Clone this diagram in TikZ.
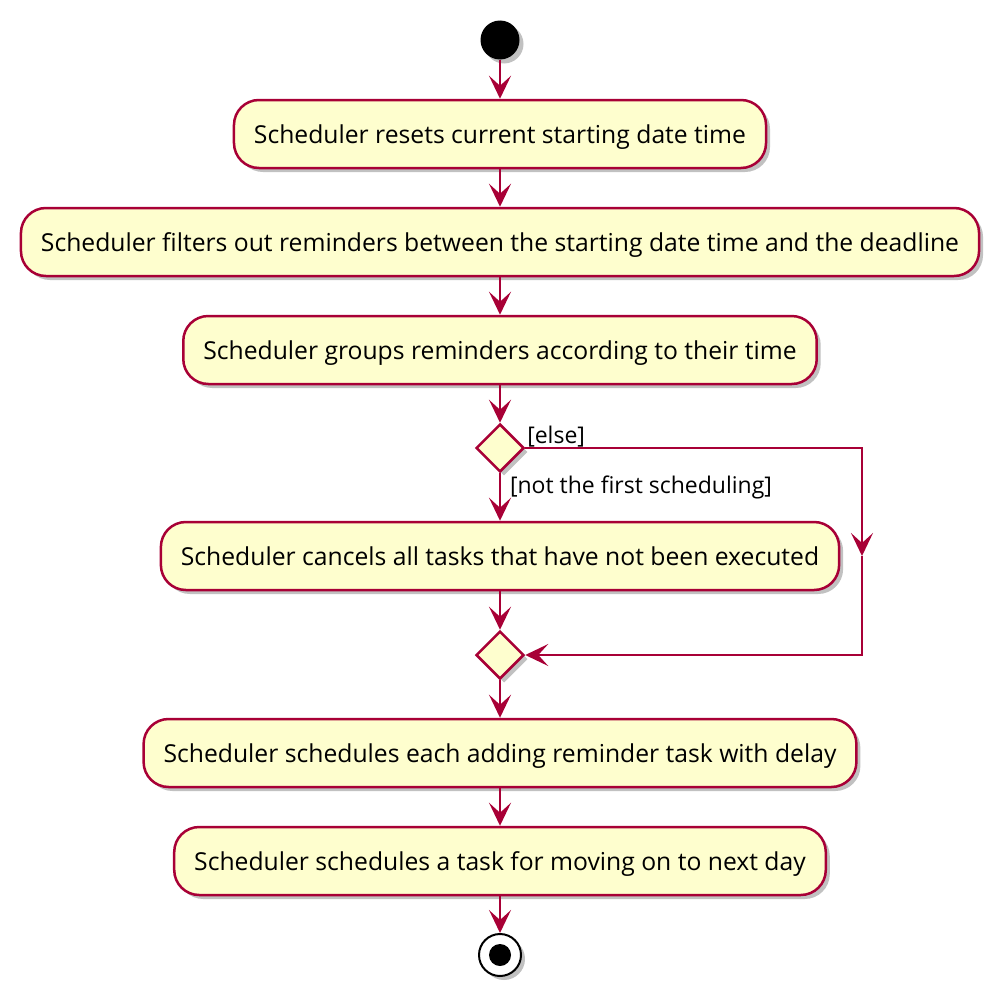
\documentclass[tikz,border=0pt]{standalone}
\usepackage{fontspec}
\setmainfont{Open Sans}
\usetikzlibrary{arrows.meta,shapes.geometric,shadows}
\definecolor{umlred}{HTML}{A80036}
\definecolor{umlfill}{HTML}{FEFECE}
\begin{document}
\begin{tikzpicture}[x=1pt,y=-1pt,
        umlshadow/.style={drop shadow={shadow xshift=4pt,shadow yshift=-4pt,opacity=0.35,fill=black!70}},
        action/.style={rectangle,draw=umlred,fill=umlfill,line width=2.5pt,umlshadow,
            rounded corners=25pt,minimum height=68pt,inner xsep=20pt,text height=25pt,text depth=5.6pt,
            font=\fontsize{24.7}{30}\selectfont},
        decision/.style={diamond,draw=umlred,fill=umlfill,line width=2.5pt,umlshadow,
            minimum width=48pt,minimum height=48pt,inner sep=0pt},
        startnode/.style={circle,fill=black,minimum size=39pt,inner sep=0pt,umlshadow},
        endnode/.style={circle,draw=black,fill=white,line width=2pt,minimum size=42pt,inner sep=0pt,umlshadow},
        guard/.style={inner sep=0pt,font=\fontsize{23}{27}\selectfont},
        flow/.style={draw=umlred,line width=2pt,-{Stealth[length=23pt,width=22pt,inset=10pt]}}]
        \useasboundingbox (0,0) rectangle (1000,998);
        \node[startnode] (start) at (500,40) {};
        \node[action] (reset) at (500,134) {Scheduler resets current starting date time};
        \node[action] (filter) at (500,242) {Scheduler filters out reminders between the starting date time and the deadline};
        \node[action] (group) at (500,350) {Scheduler groups reminders according to their time};
        \node[decision] (first) at (500,448) {};
        \node[action] (cancel) at (500,556) {Scheduler cancels all tasks that have not been executed};
        \node[decision] (merge) at (500,655) {};
        \node[action] (adding) at (500,753) {Scheduler schedules each adding reminder task with delay};
        \node[action] (nextday) at (500,861) {Scheduler schedules a task for moving on to next day};
        \node[endnode] (stop) at (500,955) {};
        \fill (stop.center) circle (11);
        \coordinate (elsetop) at (862,448);
        \coordinate (elsemid) at (862,556);
        \coordinate (elsebot) at (862,655);
        \draw[flow] (start) -- (reset);
        \draw[flow] (reset) -- (filter);
        \draw[flow] (filter) -- (group);
        \draw[flow] (group) -- (first);
        \draw[flow] (first) -- node[guard,pos=0.43,anchor=base west,xshift=9pt]{[not the first scheduling]} (cancel);
        \draw[flow] (first.east) -- node[guard,pos=0,anchor=base west,xshift=1pt,yshift=5pt]{[else]} (elsetop) -- (elsemid);
        \draw[flow] (elsemid) -- (elsebot) -- (merge.east);
        \draw[flow] (cancel) -- (merge);
        \draw[flow] (merge) -- (adding);
        \draw[flow] (adding) -- (nextday);
        \draw[flow] (nextday) -- (stop);
    \end{tikzpicture}
\end{document}
